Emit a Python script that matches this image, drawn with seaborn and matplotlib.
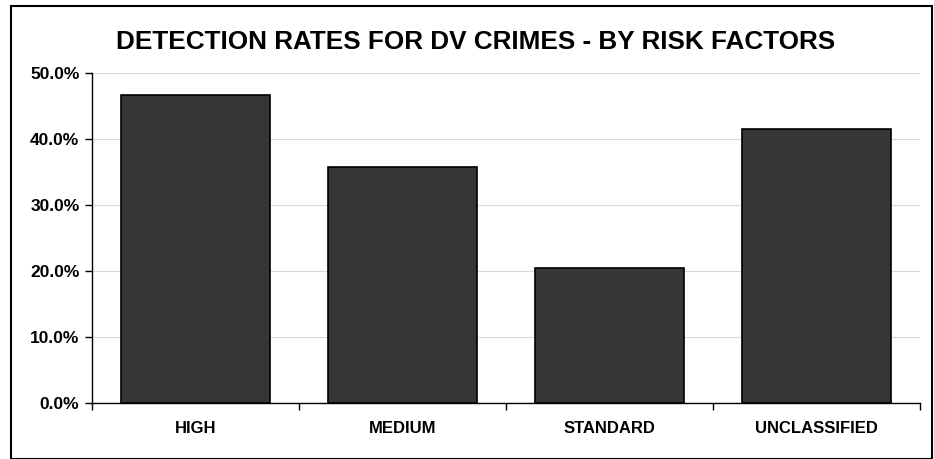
import matplotlib
matplotlib.use("Agg")
import matplotlib.pyplot as plt
import seaborn as sns
import pandas as pd
import numpy as np
from matplotlib.patches import Rectangle
from matplotlib.ticker import FuncFormatter, FixedLocator

categories = ["HIGH", "MEDIUM", "STANDARD", "UNCLASSIFIED"]
rates = [46.7, 35.8, 20.5, 41.5]
title = "DETECTION RATES FOR DV CRIMES - BY RISK FACTORS"

sns.set_theme(style="white")
plt.rcParams['font.family'] = ['Liberation Sans', 'DejaVu Sans']

W, H = 934, 459
fig = plt.figure(figsize=(W / 100, H / 100), dpi=100)
ax = fig.add_axes([92 / W, 1 - 403 / H, (920 - 92) / W, (403 - 73) / H])

df = pd.DataFrame({"cat": categories, "rate": rates})
sns.barplot(data=df, x="cat", y="rate", ax=ax, color="#363636", width=0.715,
            edgecolor="black", linewidth=1.2, saturation=1)

ax.set_ylim(0, 50)
ax.set_xlim(-0.5, len(categories) - 0.5)
ax.set_yticks(np.arange(0, 51, 10))
ax.yaxis.set_major_formatter(FuncFormatter(lambda v, p: f"{v:.1f}%"))
ax.yaxis.grid(True, color="#d9d9d9", linewidth=0.8)
ax.set_axisbelow(True)
ax.set_xlabel("")
ax.set_ylabel("")

for s in ["top", "right"]:
    ax.spines[s].set_visible(False)
for s in ["left", "bottom"]:
    ax.spines[s].set_color("black")
    ax.spines[s].set_linewidth(1.0)

ax.tick_params(axis="y", which="major", left=True, length=5, width=1, color="black",
               labelsize=12.5, labelcolor="black", pad=4)
for lbl in ax.get_yticklabels():
    lbl.set_fontweight("bold")
ax.tick_params(axis="x", which="major", bottom=False, length=0, labelsize=12,
               labelcolor="black", pad=13)
for lbl in ax.get_xticklabels():
    lbl.set_fontweight("bold")
ax.xaxis.set_minor_locator(FixedLocator(np.arange(-0.5, len(categories), 1.0)))
ax.tick_params(axis="x", which="minor", bottom=True, length=5, width=1, color="black")

fig.text(476 / W, 1 - 42 / H, title, ha="center", va="center",
         fontsize=18.8, fontweight="bold", color="black")

fig.patches.append(Rectangle((11 / W, 0), (932 - 11) / W, 1 - 6 / H,
                             transform=fig.transFigure, fill=False,
                             edgecolor="black", linewidth=1.5))

fig.savefig("out.png", dpi=100, facecolor="white")
